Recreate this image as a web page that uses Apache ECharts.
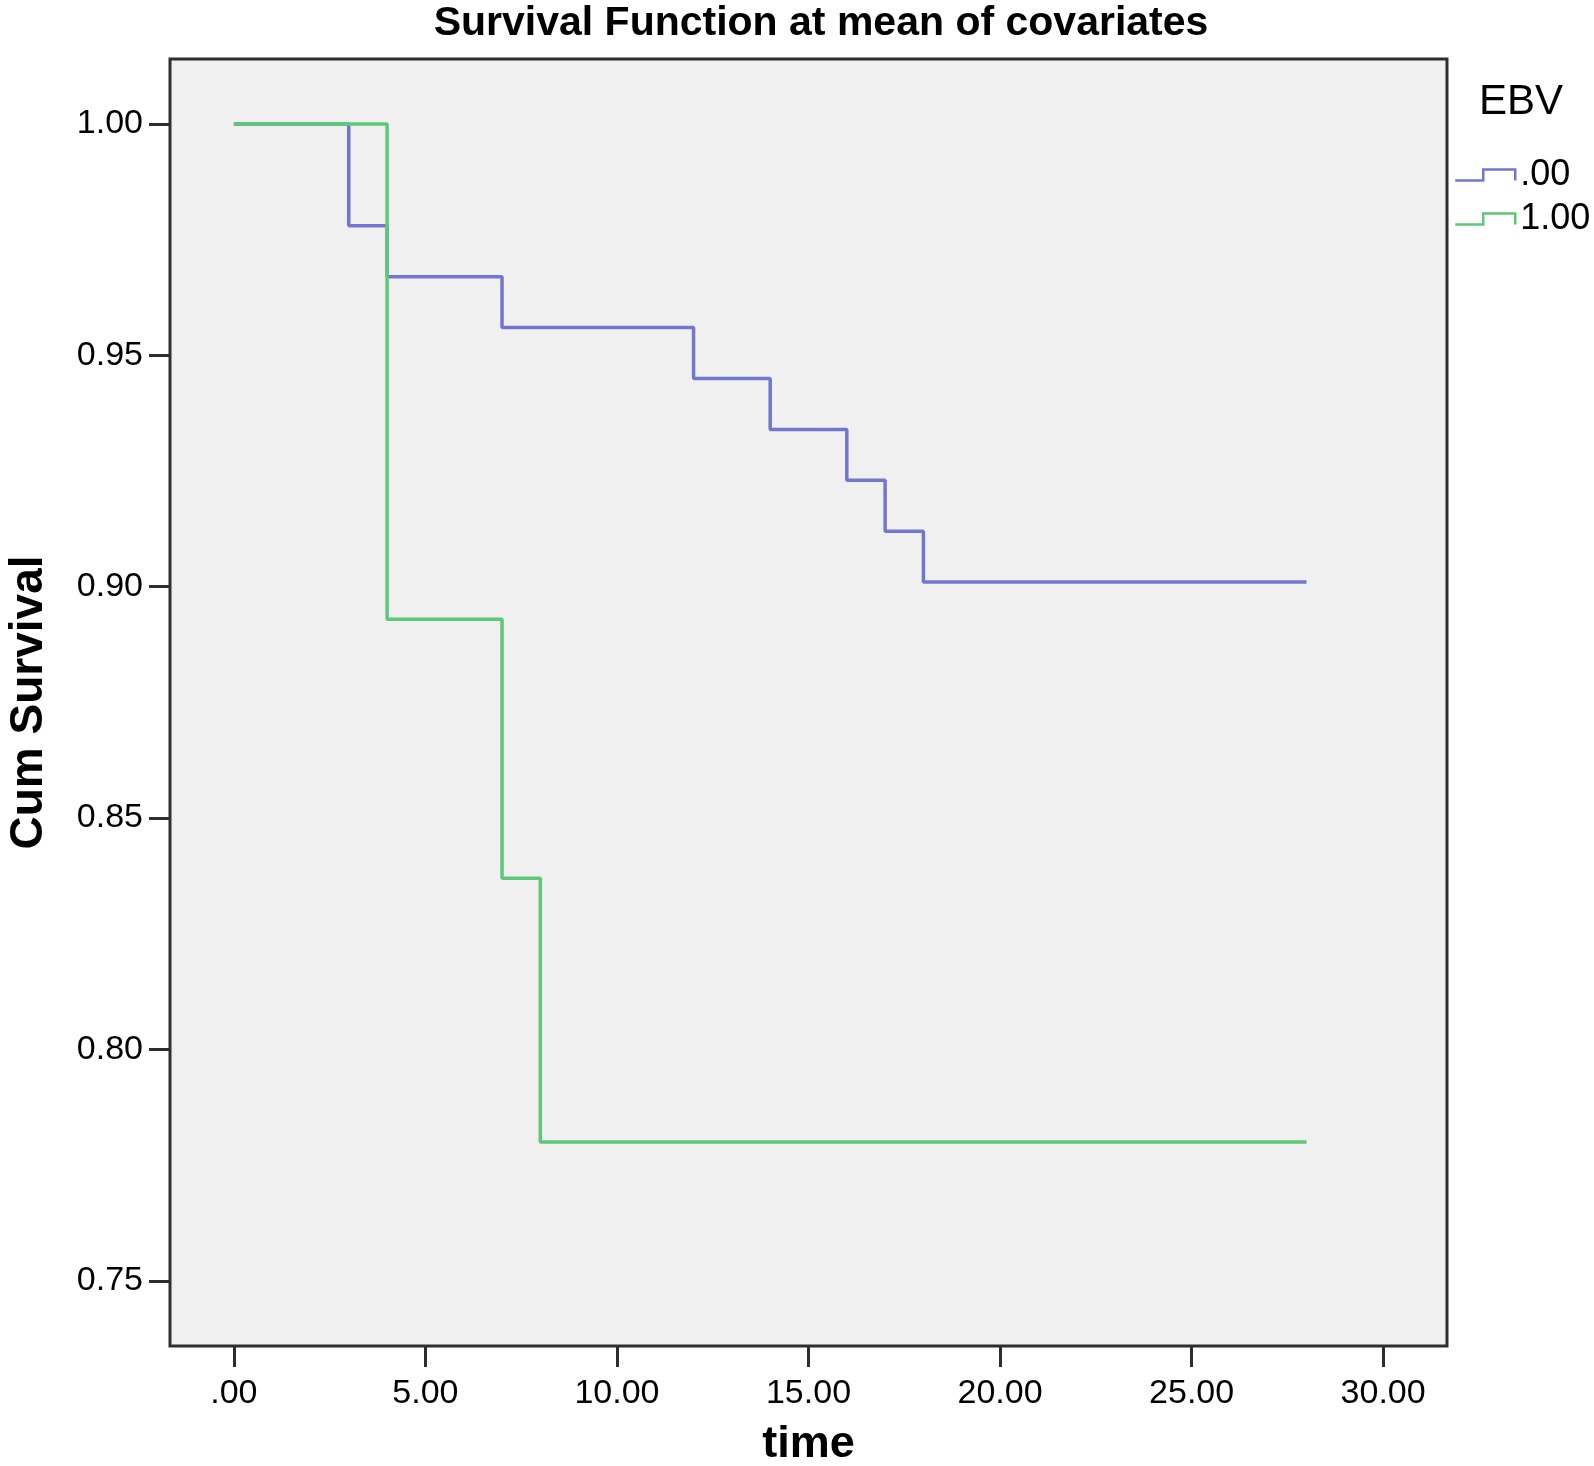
<!DOCTYPE html>
<html>
<head>
<meta charset="utf-8">
<script src="https://cdn.jsdelivr.net/npm/echarts@6/dist/echarts.min.js"></script>
<style>
html,body{margin:0;padding:0;background:#fff;}
#chart{width:1594px;height:1466px;}
</style>
</head>
<body>
<div id="chart"></div>
<script>
// ---- data ----
const seriesNames = ['.00', '1.00'];
const seriesColors = ['#7177cf', '#5dc878'];
const timeEbv0 = [0, 3, 4, 7, 12, 14, 16, 17, 18, 28];
const survEbv0 = [1.000, 0.978, 0.967, 0.956, 0.945, 0.934, 0.923, 0.912, 0.901, 0.901];
const timeEbv1 = [0, 4, 7, 8, 28];
const survEbv1 = [1.000, 0.893, 0.837, 0.780, 0.780];
const xTicks = [0, 5, 10, 15, 20, 25, 30];
const xTickLabels = ['.00', '5.00', '10.00', '15.00', '20.00', '25.00', '30.00'];
const yTicks = [0.75, 0.80, 0.85, 0.90, 0.95, 1.00];
const yTickLabels = ['0.75', '0.80', '0.85', '0.90', '0.95', '1.00'];

const pairs = (xs, ys) => xs.map((x, i) => [x, ys[i]]);
const FONT = '"Liberation Sans", Arial, sans-serif';

const chart = echarts.init(document.getElementById('chart'), null, {renderer: 'canvas'});
chart.setOption({
  animation: false,
  backgroundColor: '#ffffff',
  title: [
    {
      text: 'Survival Function at mean of covariates',
      left: 821, top: 3, textAlign: 'center', padding: 0,
      textStyle: {fontFamily: FONT, fontSize: 41, fontWeight: 'bold', color: '#000'}
    },
    {
      text: 'EBV',
      left: 1479, top: 81, padding: 0,
      textStyle: {fontFamily: FONT, fontSize: 42, fontWeight: 'normal', color: '#000'}
    }
  ],
  legend: {
    orient: 'vertical',
    left: 1454, top: 157,
    padding: 0,
    itemWidth: 60, itemHeight: 11, itemGap: 8,
    icon: 'path://M0,11 L28,11 L28,0 L60,0 L60,11',
    textStyle: {fontFamily: FONT, fontSize: 36, color: '#000'},
    data: seriesNames.map((n, i) => ({
      name: n,
      itemStyle: {color: 'rgba(0,0,0,0)', borderColor: seriesColors[i], borderWidth: 2.5}
    }))
  },
  grid: {
    left: 170, top: 59, width: 1277, height: 1287,
    outerBoundsMode: 'none',
    containLabel: false,
    show: true, backgroundColor: '#f0f0f0',
    borderColor: '#2e2e2e', borderWidth: 3
  },
  xAxis: {
    type: 'value',
    min: -5 / 3, max: 30 + 5 / 3,
    name: 'time', nameLocation: 'middle', nameGap: 76,
    nameTextStyle: {fontFamily: FONT, fontSize: 45, fontWeight: 'bold', color: '#000'},
    axisLine: {show: false, onZero: false},
    splitLine: {show: false},
    axisTick: {show: true, inside: false, length: 21, customValues: xTicks,
      lineStyle: {color: '#2e2e2e', width: 3}},
    axisLabel: {show: true, margin: 31, customValues: xTicks,
      fontFamily: FONT, fontSize: 34, color: '#000',
      formatter: v => xTickLabels[xTicks.indexOf(Math.round(v))] }
  },
  yAxis: {
    type: 'value',
    min: 0.73593, max: 1.01404,
    name: 'Cum Survival', nameLocation: 'middle', nameRotate: 90, nameGap: 118,
    nameTextStyle: {fontFamily: FONT, fontSize: 46, fontWeight: 'bold', color: '#000'},
    axisLine: {show: false, onZero: false},
    splitLine: {show: false},
    axisTick: {show: true, inside: false, length: 21, customValues: yTicks,
      lineStyle: {color: '#2e2e2e', width: 3}},
    axisLabel: {show: true, margin: 27, customValues: yTicks,
      fontFamily: FONT, fontSize: 34, color: '#000',
      formatter: v => yTickLabels[yTicks.findIndex(t => Math.abs(t - v) < 1e-6)] }
  },
  series: [
    {
      name: seriesNames[0], type: 'line', step: 'end',
      data: pairs(timeEbv0, survEbv0),
      showSymbol: false, symbol: 'none',
      color: seriesColors[0],
      lineStyle: {width: 3.5, color: seriesColors[0]},
      z: 2
    },
    {
      name: seriesNames[1], type: 'line', step: 'end',
      data: pairs(timeEbv1, survEbv1),
      showSymbol: false, symbol: 'none',
      color: seriesColors[1],
      lineStyle: {width: 3.5, color: seriesColors[1]},
      z: 3
    }
  ]
});
</script>
</body>
</html>
